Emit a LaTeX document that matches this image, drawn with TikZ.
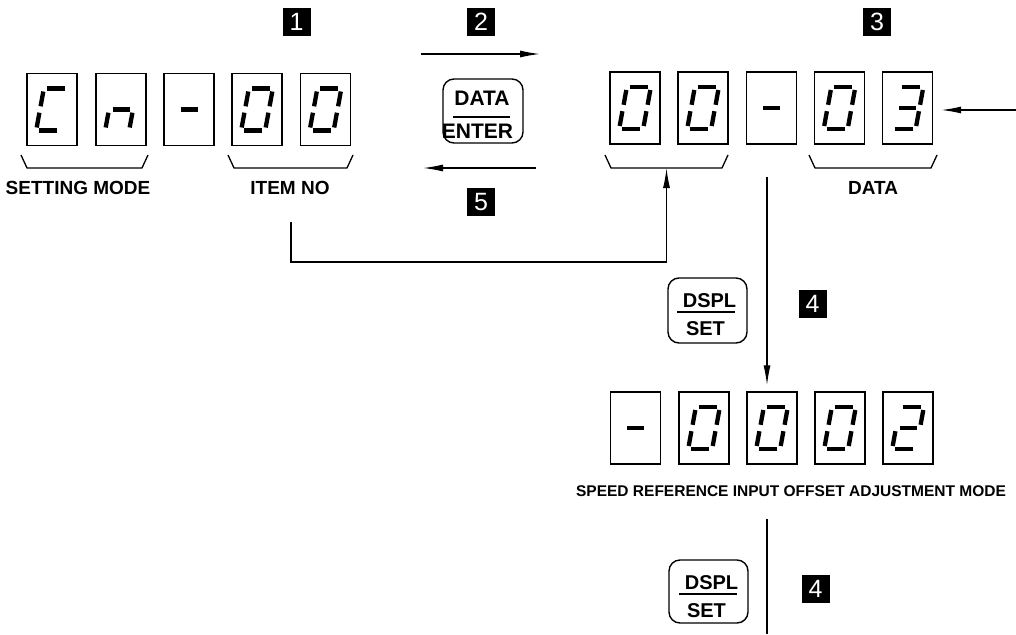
\documentclass[tikz,border=0pt]{standalone}
\usepackage{fontspec}
\setmainfont{Liberation Sans}
\usetikzlibrary{arrows.meta,calc}
\tikzset{
 dbox/.style={draw, line width=1.4pt, minimum width=50pt, minimum height=72pt, inner sep=0pt},
 seg/.style={line width=4.3pt},
 brk/.style={line width=1.3pt},
 conn/.style={line width=1.3pt},
 arr/.style={line width=1.3pt, -{Latex[length=20pt,width=7pt]}},
 btn/.style={draw, line width=1.4pt, rounded corners=11pt, minimum width=80pt, minimum height=64pt, inner sep=0pt},
 bt/.style={font=\fontsize{20}{20}\selectfont\bfseries, inner sep=0pt},
 lbl/.style={font=\fontsize{19}{19}\selectfont\bfseries, inner sep=0pt},
 numbox/.style={fill=black, text=white, minimum width=28pt, minimum height=28pt, inner sep=0pt, font=\fontsize{25}{25}\selectfont},
}
\def\SegA{\draw[seg] (-5.2,-21) -- (12.8,-21);}
\def\SegB{\draw[seg] (15.3,-18) -- (12.6,-3.2);}
\def\SegC{\draw[seg] (11.4,3.2) -- (8.7,18);}
\def\SegD{\draw[seg] (-12.8,21) -- (5.2,21);}
\def\SegE{\draw[seg] (-12.6,3.2) -- (-15.3,18);}
\def\SegF{\draw[seg] (-8.7,-18) -- (-11.4,-3.2);}
\def\SegG{\draw[seg] (-8.5,0) -- (8.5,0);}
\newcommand{\SevenSeg}[3]{%
  \node[dbox] (#1) at (#2) {};
  \begin{scope}[shift={(#1.center)}]
    \foreach \s in {#3}{\csname Seg\s\endcsname}
  \end{scope}}
\newcommand{\Brk}[3]{%
  \draw[brk] (#1,155) -- (#1+6,168) -- (#2-6,168) -- (#2,155);
  \coordinate (#3) at ({(#1+#2)/2},168);}
\begin{document}
\begin{tikzpicture}[x=1pt,y=-1pt]
\useasboundingbox (0,0) rectangle (1016,634);
% top-left display
\SevenSeg{l1}{52,109.5}{A,D,E,F}
\SevenSeg{l2}{121,109.5}{C,E,G}
\SevenSeg{l3}{189,109.5}{G}
\SevenSeg{l4}{257,109.5}{A,B,C,D,E,F}
\SevenSeg{l5}{325.5,109.5}{A,B,C,D,E,F}
% top-right display
\SevenSeg{r1}{635,108}{A,B,C,D,E,F}
\SevenSeg{r2}{703,108}{A,B,C,D,E,F}
\SevenSeg{r3}{771.5,108}{G}
\SevenSeg{r4}{839.5,108}{A,B,C,D,E,F}
\SevenSeg{r5}{907.5,108}{A,B,C,D,G}
% bottom display
\SevenSeg{b1}{635.5,428}{G}
\SevenSeg{b2}{704,428}{A,B,C,D,E,F}
\SevenSeg{b3}{772,428}{A,B,C,D,E,F}
\SevenSeg{b4}{840,428}{A,B,C,D,E,F}
\SevenSeg{b5}{908,428}{A,B,G,E,D}
% brackets
\Brk{21}{148}{brL1}
\Brk{228}{353}{brL2}
\Brk{605}{728}{brR1}
\Brk{809}{937}{brR2}
% labels
\node[lbl] (setmode) at (78,188) {SETTING MODE};
\node[lbl] (itemno) at (290,188) {ITEM NO};
\node[lbl] (datalbl) at (873,188) {DATA};
\node[lbl, font=\fontsize{15.5}{15.5}\selectfont\bfseries] (speedlbl) at (791,491) {SPEED REFERENCE INPUT OFFSET ADJUSTMENT MODE};
% step markers
\node[numbox] (m1) at (296.5,22) {1};
\node[numbox] (m2) at (481,22) {2};
\node[numbox] (m3) at (877,22) {3};
\node[numbox] (m5) at (481,202) {5};
\node[numbox] (m4a) at (812.5,304) {4};
\node[numbox] (m4b) at (815.5,589) {4};
% DATA/ENTER button
\node[btn] (bde) at (483,111) {};
\node[bt, font=\fontsize{21}{21}\selectfont\bfseries] (bdeT) at (482,98) {DATA};
\draw[conn] (453,117) -- (510,117);
\node[bt, font=\fontsize{21}{21}\selectfont\bfseries] (bdeB) at (477.5,131) {ENTER};
% DSPL/SET buttons
\node[btn, minimum width=79pt, minimum height=65pt] (ds1) at (707.5,310.5) {};
\node[bt] (ds1T) at (709.5,300.5) {DSPL};
\draw[conn] (677,312) -- (735,312);
\node[bt] (ds1B) at (705.5,329) {SET};
\node[btn, minimum width=79pt, minimum height=63pt] (ds2) at (708.5,591.5) {};
\node[bt] (ds2T) at (711.5,582.5) {DSPL};
\draw[conn] (679,594) -- (737,594);
\node[bt] (ds2B) at (706.5,610.5) {SET};
% arrows
\coordinate (a2s) at (421,54);
\coordinate (a2e) at (540,54);
\draw[arr] (a2s) -- (a2e);
\coordinate (a5s) at (536,168);
\coordinate (a5e) at (423,168);
\draw[arr] (a5s) -- (a5e);
\coordinate (rin) at (1016,110);
\draw[arr] (rin) -- ([xshift=8pt,yshift=-2pt]r5.east);
\coordinate (fbs) at (291,222);
\coordinate (fbb) at (0,262);
\draw[arr] (fbs) -- (fbs |- fbb) -| (brR1);
\draw[arr] ([xshift=-4.5pt,yshift=-32pt]r3.south) -- ([xshift=-5pt,yshift=6pt]b3.north);
\coordinate (bend) at (767,634);
\draw[conn] ([xshift=-5pt,yshift=-54pt]b3.south) -- (bend);
\end{tikzpicture}
\end{document}
